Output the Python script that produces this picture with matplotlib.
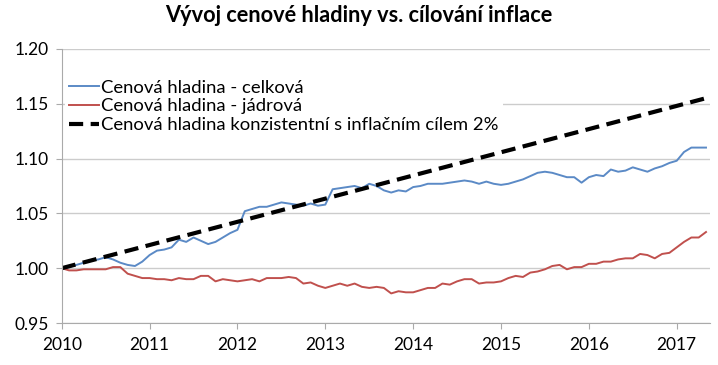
import numpy as np
import matplotlib.pyplot as plt

# monthly data, Jan 2010 .. May 2017 (index: 2010 = 1.00)
start_year = 2010
cpi_total = [
    1.000, 1.001, 1.003, 1.005, 1.007, 1.008, 1.010, 1.008, 1.005, 1.003, 1.002, 1.006,
    1.012, 1.016, 1.017, 1.019, 1.026, 1.024, 1.028, 1.025, 1.022, 1.024, 1.028, 1.032,
    1.035, 1.052, 1.054, 1.056, 1.056, 1.058, 1.060, 1.059, 1.058, 1.057, 1.059, 1.057,
    1.058, 1.072, 1.073, 1.074, 1.075, 1.073, 1.077, 1.075, 1.071, 1.069, 1.071, 1.070,
    1.074, 1.075, 1.077, 1.077, 1.077, 1.078, 1.079, 1.080, 1.079, 1.077, 1.079, 1.077,
    1.076, 1.077, 1.079, 1.081, 1.084, 1.087, 1.088, 1.087, 1.085, 1.083, 1.083, 1.078,
    1.083, 1.085, 1.084, 1.090, 1.088, 1.089, 1.092, 1.090, 1.088, 1.091, 1.093, 1.096,
    1.098, 1.106, 1.110, 1.110, 1.110,
]
cpi_core = [
    1.000, 0.998, 0.998, 0.999, 0.999, 0.999, 0.999, 1.001, 1.001, 0.995, 0.993, 0.991,
    0.991, 0.990, 0.990, 0.989, 0.991, 0.990, 0.990, 0.993, 0.993, 0.988, 0.990, 0.989,
    0.988, 0.989, 0.990, 0.988, 0.991, 0.991, 0.991, 0.992, 0.991, 0.986, 0.987, 0.984,
    0.982, 0.984, 0.986, 0.984, 0.986, 0.983, 0.982, 0.983, 0.982, 0.977, 0.979, 0.978,
    0.978, 0.980, 0.982, 0.982, 0.986, 0.985, 0.988, 0.990, 0.990, 0.986, 0.987, 0.987,
    0.988, 0.991, 0.993, 0.992, 0.996, 0.997, 0.999, 1.002, 1.003, 0.999, 1.001, 1.001,
    1.004, 1.004, 1.006, 1.006, 1.008, 1.009, 1.009, 1.013, 1.012, 1.009, 1.013, 1.014,
    1.019, 1.024, 1.028, 1.028, 1.033,
]
target_x = [2010.0, 2017.33]
target_y = [1.000, 1.155]

labels = [
    "Cenová hladina - celková",
    "Cenová hladina - jádrová",
    "Cenová hladina konzistentní s inflačním cílem 2%",
]
title = "Vývoj cenové hladiny vs. cílování inflace"
year_ticks = list(range(2010, 2018))
y_ticks = [0.95, 1.00, 1.05, 1.10, 1.15, 1.20]

plt.rcParams['font.family'] = ['Lato', 'DejaVu Sans']

x = start_year + np.arange(len(cpi_total)) / 12.0

fig = plt.figure(figsize=(7.18, 3.65), dpi=100)
ax = fig.add_axes([0.086, 0.115, 0.903, 0.751])

ax.plot(x, cpi_total, color='#5B8AC6', lw=1.4, label=labels[0])
ax.plot(x, cpi_core, color='#C0504D', lw=1.4, label=labels[1])
ax.plot(target_x, target_y, color='black', lw=3, dashes=(3.4, 1.8), label=labels[2])

ax.set_xlim(2010, 2017.38)
ax.set_ylim(0.95, 1.20)
ax.set_xticks(year_ticks)
ax.set_xticklabels([str(y) for y in year_ticks])
ax.set_yticks(y_ticks)
ax.set_yticklabels([f"{v:.2f}" for v in y_ticks])
ax.tick_params(labelsize=12.5, colors='black', length=4, color='#aaaaaa')
ax.tick_params(axis='x', pad=6)
ax.tick_params(axis='y', pad=5)
ax.yaxis.grid(True, color='#cccccc', lw=1)
ax.set_axisbelow(True)
for s in ['top', 'right']:
    ax.spines[s].set_visible(False)
for s in ['left', 'bottom']:
    ax.spines[s].set_color('#aaaaaa')

leg = ax.legend(loc='upper left', bbox_to_anchor=(0.0, 0.915), frameon=True,
                fontsize=13.3, handlelength=1.6, handletextpad=0.15,
                labelspacing=0.15, borderaxespad=0.2, borderpad=0.2)
leg.get_frame().set_facecolor('white')
leg.get_frame().set_edgecolor('none')
leg.get_frame().set_alpha(1)

fig.suptitle(title, fontsize=15.7, fontweight='bold', y=0.985)

fig.savefig('out.png', dpi=100)
